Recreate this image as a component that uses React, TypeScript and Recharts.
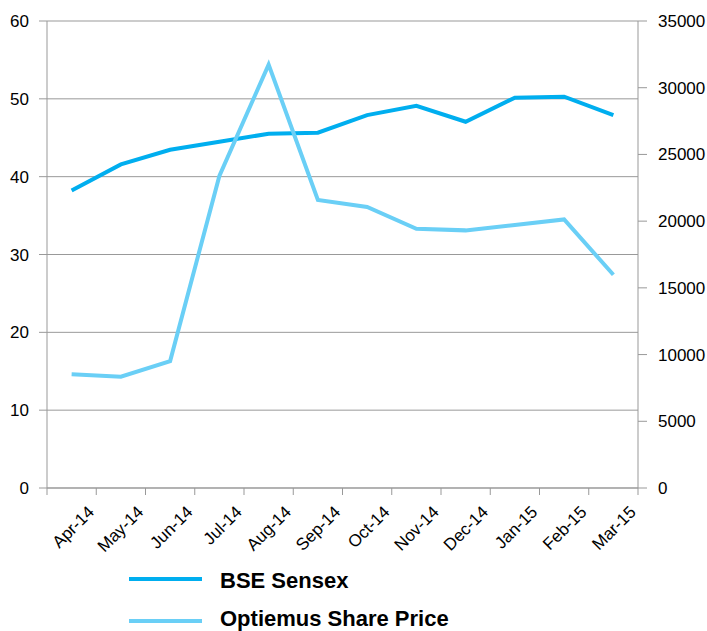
import React from 'react';
import { ComposedChart, Line, XAxis, YAxis, CartesianGrid, Legend } from 'recharts';

const months = ['Apr-14', 'May-14', 'Jun-14', 'Jul-14', 'Aug-14', 'Sep-14', 'Oct-14', 'Nov-14', 'Dec-14', 'Jan-15', 'Feb-15', 'Mar-15'];
const bseSensex = [22300, 24250, 25350, 25950, 26550, 26630, 27950, 28650, 27450, 29250, 29330, 27950];
const optiemusPrice = [14.6, 14.3, 16.3, 40.1, 54.4, 37.0, 36.1, 33.3, 33.1, 33.8, 34.5, 27.4];
const leftTicks = [0, 10, 20, 30, 40, 50, 60];
const rightTicks = [0, 5000, 10000, 15000, 20000, 25000, 30000, 35000];

const data = months.map((m, i) => ({ month: m, bse: bseSensex[i], opt: optiemusPrice[i] }));

const W = 707;
const H = 631;
const LEFT_W = 47;
const RIGHT_W = 69;
const PLOT_W = W - LEFT_W - RIGHT_W;
const FONT = '"Liberation Sans", Arial, sans-serif';
const AXIS_GREY = '#999999';
const BSE_COLOR = '#00AEEF';
const OPT_COLOR = '#6ACFF6';

const XTick = (props: any) => {
  const { x, y, payload, index } = props;
  const bw = PLOT_W / months.length;
  const ax = x + bw / 2 - 1;
  const ay = y + 18;
  return (
    <g>
      <line x1={x - bw / 2} y1={y - 7} x2={x - bw / 2} y2={y} stroke={AXIS_GREY} />
      {index === months.length - 1 && (
        <line x1={x + bw / 2} y1={y - 7} x2={x + bw / 2} y2={y} stroke={AXIS_GREY} />
      )}
      <text
        x={ax}
        y={ay}
        textAnchor="end"
        transform={`rotate(-45, ${ax}, ${ay})`}
        fontSize={17}
        fontFamily={FONT}
        fill="#000"
      >
        {payload.value}
      </text>
    </g>
  );
};

const LEGEND_LINE_Y = [19, 61];
const LEGEND_TEXT_Y = [28, 66];

const renderLegend = (props: any) => {
  const { payload } = props;
  return (
    <svg width={500} height={71} style={{ display: 'block' }}>
      {(payload || []).map((entry: any, i: number) => (
        <g key={entry.value}>
          <line x1={129} y1={LEGEND_LINE_Y[i]} x2={202} y2={LEGEND_LINE_Y[i]} stroke={entry.color} strokeWidth={4} />
          <text x={220} y={LEGEND_TEXT_Y[i]} fontSize={22} fontWeight="bold" fontFamily={FONT} fill="#000">
            {entry.value}
          </text>
        </g>
      ))}
    </svg>
  );
};

export default function App() {
  return (
    <div style={{ position: 'absolute', left: 0, top: 0, width: W, height: H, background: '#fff' }}>
      <ComposedChart width={W} height={H} data={data} margin={{ top: 21, right: 0, bottom: 0, left: 0 }}>
        <CartesianGrid yAxisId="left" vertical={false} stroke={AXIS_GREY} strokeWidth={1} />
        <XAxis
          dataKey="month"
          scale="band"
          height={143}
          interval={0}
          tickLine={false}
          tickSize={7}
          tickMargin={0}
          axisLine={{ stroke: AXIS_GREY }}
          tick={<XTick />}
        />
        <YAxis
          yAxisId="left"
          orientation="left"
          width={LEFT_W}
          domain={[0, 60]}
          ticks={leftTicks}
          interval={0}
          tickSize={8}
          tickMargin={10}
          axisLine={{ stroke: AXIS_GREY }}
          tickLine={{ stroke: AXIS_GREY }}
          tick={{ fontSize: 17, fill: '#000', fontFamily: FONT }}
        />
        <YAxis
          yAxisId="right"
          orientation="right"
          width={RIGHT_W}
          domain={[0, 35000]}
          ticks={rightTicks}
          interval={0}
          tickSize={9}
          tickMargin={11}
          axisLine={{ stroke: AXIS_GREY }}
          tickLine={{ stroke: AXIS_GREY }}
          tick={{ fontSize: 17, fill: '#000', fontFamily: FONT }}
        />
        <Line
          yAxisId="right"
          dataKey="bse"
          name="BSE Sensex"
          stroke={BSE_COLOR}
          strokeWidth={4}
          dot={false}
          activeDot={false}
          isAnimationActive={false}
        />
        <Line
          yAxisId="left"
          dataKey="opt"
          name="Optiemus Share Price"
          stroke={OPT_COLOR}
          strokeWidth={4}
          dot={false}
          activeDot={false}
          isAnimationActive={false}
        />
        <Legend
          layout="vertical"
          align="center"
          verticalAlign="middle"
          wrapperStyle={{ top: 560, left: 0, width: 500, height: 71 }}
          content={renderLegend}
        />
      </ComposedChart>
    </div>
  );
}
